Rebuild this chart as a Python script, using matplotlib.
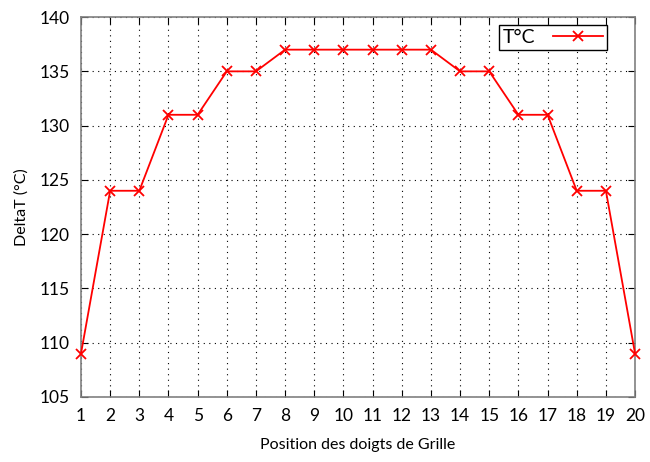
import matplotlib
matplotlib.use("Agg")
import matplotlib.pyplot as plt

# positions des doigts de grille et delta T
positions = list(range(1, 21))
delta_t = [109, 124, 124, 131, 131, 135, 135, 137, 137, 137,
           137, 137, 137, 135, 135, 131, 131, 124, 124, 109]

plt.rcParams['font.family'] = ['Lato', 'DejaVu Sans']

fig = plt.figure(figsize=(6.5, 4.62), dpi=100)
ax = fig.add_axes([0.1246, 0.1407, 0.8524, 0.8223])

ax.plot(positions, delta_t, color='#ff0000', lw=1.3, marker='x', ms=7,
        mew=1.3, label='T°C', clip_on=False, zorder=3)

ax.set_xlim(1, 20)
ax.set_ylim(105, 140)
ax.set_xticks(positions)
ax.set_yticks(range(105, 141, 5))
ax.grid(True, color='black', linestyle=(0, (1, 4)), linewidth=0.8)
ax.tick_params(direction='in', top=True, right=True, length=5, labelsize=12.5,
               pad=8)
for s in ax.spines.values():
    s.set_color('#808080')
    s.set_linewidth(1.2)

ax.set_xlabel('Position des doigts de Grille', fontsize=11.5, labelpad=10)
ax.set_ylabel('DeltaT (°C)', fontsize=11.5, labelpad=8)

leg = ax.legend(loc='upper right', bbox_to_anchor=(0.95, 0.979), fontsize=14,
                fancybox=False, framealpha=1, edgecolor='black',
                markerfirst=False, handlelength=2.6, borderpad=0.2,
                handletextpad=0.9, borderaxespad=0)
leg.get_frame().set_linewidth(1.0)

fig.savefig('out.png', dpi=100)
